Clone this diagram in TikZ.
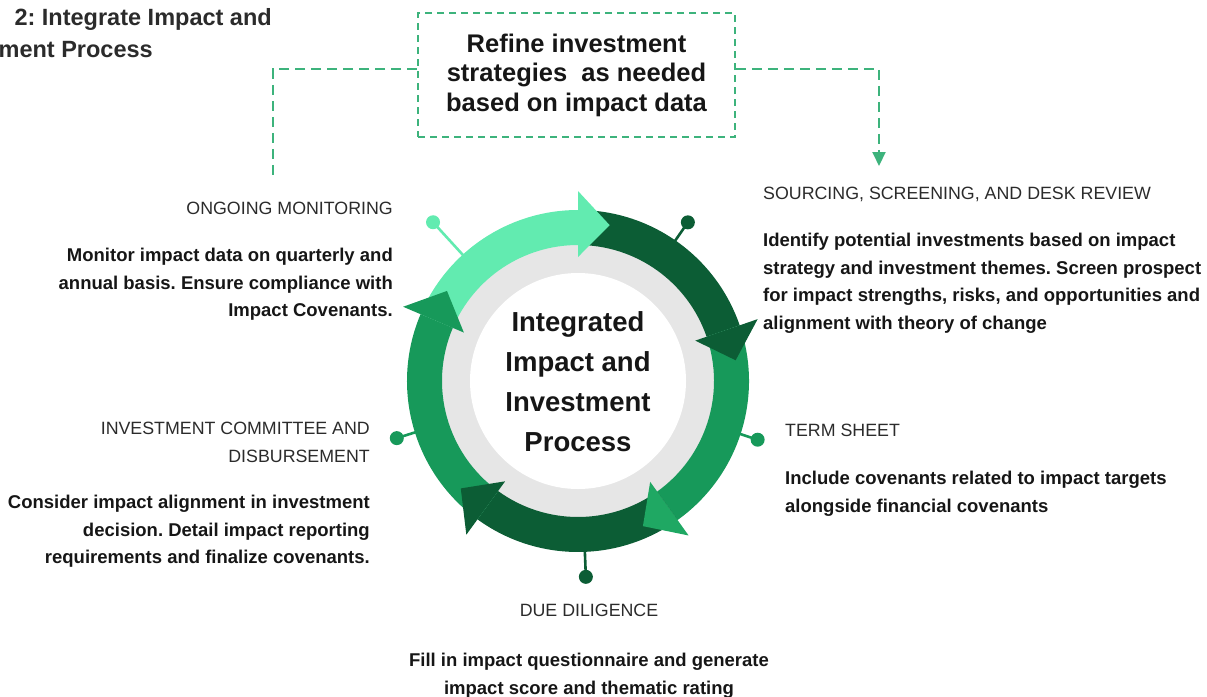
\documentclass[tikz,border=0pt]{standalone}
\usepackage{fontspec}
\setmainfont{Liberation Sans}
\usetikzlibrary{arrows.meta}
\frenchspacing

\definecolor{ringlight}{HTML}{62EBB0}
\definecolor{ringdark}{HTML}{0C5D35}
\definecolor{ringmid}{HTML}{17995A}
\definecolor{ringhead}{HTML}{1FA863}
\definecolor{ringgray}{HTML}{E6E6E6}
\definecolor{loopgreen}{HTML}{3DB37C}
\definecolor{headgray}{HTML}{2B2B2B}
\definecolor{bodyblack}{HTML}{161616}

\tikzset{
  titletext/.style={font=\bfseries\fontsize{23.5}{32}\selectfont, text=headgray, inner sep=0pt},
  stephead/.style={font=\fontsize{17.8}{28}\selectfont, text=headgray, inner sep=0pt},
  stepbody/.style={font=\bfseries\fontsize{18.5}{27.5}\selectfont, text=bodyblack, inner sep=0pt},
  centertext/.style={font=\bfseries\fontsize{27.5}{40}\selectfont, text=bodyblack, align=center, inner sep=0pt},
  refinebox/.style={draw=loopgreen, line width=1.8pt, dash pattern=on 7pt off 5pt,
    minimum width=317pt, minimum height=124pt, align=center, inner sep=0pt,
    font=\bfseries\fontsize{25.5}{29.5}\selectfont, text=bodyblack},
  loopline/.style={draw=loopgreen, line width=2pt, dash pattern=on 10pt off 6pt},
}

\begin{document}
\begin{tikzpicture}[x=1pt,y=-1pt]
  \useasboundingbox (0,0) rectangle (1207,696);

  % Titolo (tagliato a sinistra)
  \node[titletext, anchor=base east] (title1) at (272,25.5) {2: Integrate Impact and};
  \node[titletext, anchor=base east] (title2) at (153,57.5) {ment Process};

  % Riquadro in alto e frecce tratteggiate
  \node[refinebox] (refine) at (576.5,75) {Refine investment\\strategies~ as needed\\based on impact data};
  \coordinate (monitor-top) at (273,178);
  \coordinate (sourcing-top) at (879,166);
  \draw[loopline] ([yshift=6pt]refine.west) -| (monitor-top);
  \draw[loopline, -{Triangle[width=13pt,length=14pt]}] ([yshift=6pt]refine.east) -| (sourcing-top);

  % Anello centrale
  \begin{scope}[shift={(578,381)}, y=1pt]
    \fill[ringgray] (0,0) circle (150);
    \fill[white] (0,0) circle (108);
    % spilli
    \foreach \a/\r/\col in {132.4/215/ringlight, 55.3/193/ringdark, -18.1/189/ringmid, -87.7/196/ringdark, 197.5/190/ringmid} {
      \draw[\col, line width=2.6pt] (\a:165) -- (\a:\r);
      \fill[\col] (\a:\r) circle (7);
    }
    % settori
    \foreach \col/\s/\e in {ringlight/157/90, ringdark/90/19, ringmid/19/-54.4, ringdark/-54.4/-126, ringmid/-126/-203}
      \fill[\col] (\s:171) arc[start angle=\s, end angle=\e, radius=171] -- (\e:136) arc[start angle=\e, end angle=\s, radius=136] -- cycle;
    % punte
    \foreach \col/\e in {ringlight/90, ringdark/19, ringhead/-54.4, ringdark/-126, ringmid/-203}
      \fill[\col] (\e:124) -- (\e:190) -- ({\e-11.5}:159) -- cycle;
  \end{scope}
  \node[centertext] (core) at (578,382) {Integrated\\Impact and\\Investment\\Process};

  % Fasi
  \node[stephead, anchor=north east, align=right] (monitor-head) at (393,201.5) {ONGOING MONITORING};
  \node[stepbody, anchor=north east, align=right] (monitor-text) at (393,248.3) {Monitor impact data on quarterly and\\annual basis. Ensure compliance with\\Impact Covenants.};

  \node[stephead, anchor=north west, align=left] (sourcing-head) at (763,186.5) {SOURCING, SCREENING, AND DESK REVIEW};
  \node[stepbody, anchor=north west, align=left] (sourcing-text) at (763,233.3) {Identify potential investments based on impact\\strategy and investment themes. Screen prospect\\for impact strengths, risks, and opportunities and\\alignment with theory of change};

  \node[stephead, anchor=north west, align=left] (term-head) at (785,423.5) {TERM SHEET};
  \node[stepbody, anchor=north west, align=left] (term-text) at (785,471.3) {Include covenants related to impact targets\\alongside financial covenants};

  \node[stephead, anchor=north, align=center] (due-head) at (589,603.5) {DUE DILIGENCE};
  \node[stepbody, anchor=north, align=center] (due-text) at (589,653.3) {Fill in impact questionnaire and generate\\impact score and thematic rating};

  \node[stephead, anchor=north east, align=right] (committee-head) at (370,421.5) {INVESTMENT COMMITTEE AND\\DISBURSEMENT};
  \node[stepbody, anchor=north east, align=right] (committee-text) at (370,495.3) {Consider impact alignment in investment\\decision. Detail impact reporting\\requirements and finalize covenants.};
\end{tikzpicture}
\end{document}
